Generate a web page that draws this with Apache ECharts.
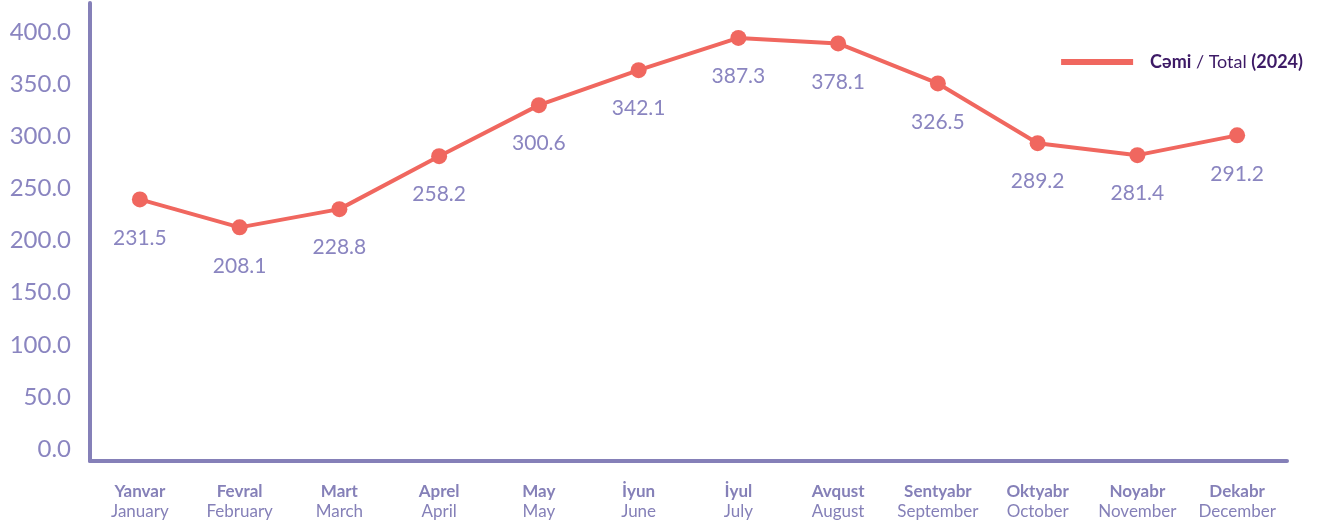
<!DOCTYPE html>
<html>
<head>
<meta charset="utf-8">
<script src="https://cdn.jsdelivr.net/npm/echarts@6/dist/echarts.min.js"></script>
<style>
  html, body { margin: 0; padding: 0; background: #fff; }
  #chartDiv { width: 1324px; height: 525px; }
</style>
</head>
<body>
<div id="chartDiv"></div>
<script>
// months (az / en)
var monthsAz = ['Yanvar', 'Fevral', 'Mart', 'Aprel', 'May', 'İyun', 'İyul', 'Avqust', 'Sentyabr', 'Oktyabr', 'Noyabr', 'Dekabr'];
var monthsEn = ['January', 'February', 'March', 'April', 'May', 'June', 'July', 'August', 'September', 'October', 'November', 'December'];
// point heights as drawn in the picture
var totalValues = [239.5, 212.7, 230.2, 281, 330, 363.5, 394.5, 389.2, 350.8, 293.5, 282, 301];
// label texts printed under the points
var totalLabels = ['231.5', '208.1', '228.8', '258.2', '300.6', '342.1', '387.3', '378.1', '326.5', '289.2', '281.4', '291.2'];
var yTicks = [0, 50, 100, 150, 200, 250, 300, 350, 400];

var axisColor = '#8580b8';
var lineColor = '#f0675f';
var font = 'Lato';

var myChart = echarts.init(document.getElementById('chartDiv'));

var option = {
    animation: false,
    textStyle: { fontFamily: font },
    legend: {
        top: 48,
        right: 16,
        icon: 'rect',
        itemWidth: 72,
        itemHeight: 6,
        data: ['total'],
        formatter: function () {
            return '{b|Cəmi} / Total {b|(2024)}';
        },
        textStyle: {
            color: '#3d1a66',
            fontSize: 18,
            fontFamily: font,
            padding: [0, 0, 0, 12],
            rich: {
                b: { fontWeight: 'bold', fontSize: 18, color: '#3d1a66', fontFamily: font }
            }
        }
    },
    grid: {
        left: 90,
        right: 37,
        top: 3,
        bottom: 64,
        containLabel: false
    },
    xAxis: {
        type: 'category',
        boundaryGap: true,
        data: monthsAz,
        axisLine: { onZero: false, lineStyle: { color: axisColor, width: 4 } },
        axisTick: { show: false },
        axisLabel: {
            margin: 21,
            interval: 0,
            formatter: function (v, i) {
                return '{a|' + v + '}\n{b|' + monthsEn[i] + '}';
            },
            rich: {
                a: { fontWeight: 'bold', fontSize: 17, color: axisColor, lineHeight: 20, fontFamily: font },
                b: { fontSize: 17, color: axisColor, lineHeight: 20, fontFamily: font }
            }
        }
    },
    yAxis: {
        type: 'value',
        min: -11.5,
        max: 428,
        axisLine: { show: true, lineStyle: { color: axisColor, width: 4 } },
        axisTick: { show: false },
        splitLine: { show: false },
        axisLabel: {
            customValues: yTicks,
            margin: 19,
            color: '#8a85c0',
            fontSize: 24,
            fontFamily: font,
            formatter: function (v) { return v.toFixed(1); }
        }
    },
    series: [{
        name: 'total',
        type: 'line',
        data: totalValues,
        symbol: 'circle',
        symbolSize: 16,
        lineStyle: { color: lineColor, width: 4 },
        itemStyle: { color: lineColor },
        label: {
            show: true,
            position: 'bottom',
            distance: 20,
            color: '#8a85c0',
            fontSize: 21,
            fontFamily: font,
            formatter: function (p) { return totalLabels[p.dataIndex]; }
        }
    }]
};

myChart.setOption(option);
window.addEventListener('resize', function () {
    myChart.resize();
});
</script>
</body>
</html>
